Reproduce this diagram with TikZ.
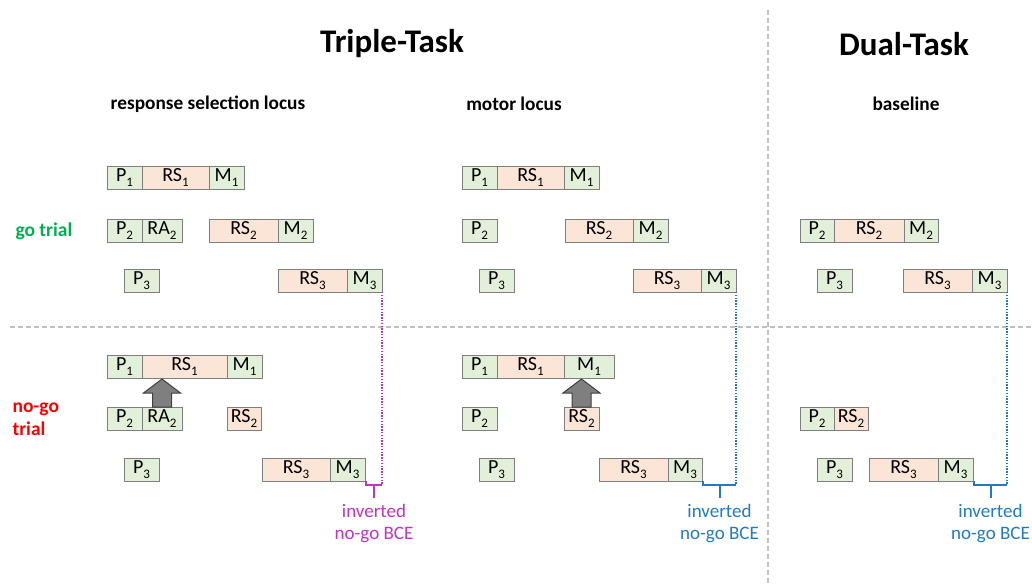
\documentclass[tikz,border=0pt]{standalone}
\usepackage{fontspec}
\setmainfont{Carlito}
\usetikzlibrary{calc}
\definecolor{gfill}{HTML}{E2F0D9}
\definecolor{ofill}{HTML}{FBE5D6}
\definecolor{edge}{HTML}{7F7F7F}
\definecolor{bceA}{HTML}{C82FC8}
\definecolor{bceB}{HTML}{1F7BC8}
\definecolor{gotxt}{HTML}{00B050}
\definecolor{nogotxt}{HTML}{FF0000}
\definecolor{divider}{HTML}{BFBFBF}
\definecolor{arrowfill}{HTML}{7F7F7F}
\definecolor{arrowedge}{HTML}{404040}
% lowered subscript for the stage labels
\newcommand\stagesub[1]{\raisebox{-0.28em}{\fontsize{13}{13}\selectfont #1}}
\begin{document}
\begin{tikzpicture}[x=1pt,y=-1pt,
  box/.style={draw=edge, line width=0.8pt, minimum height=23pt, inner sep=0pt,
    outer sep=0pt, anchor=north west, font=\fontsize{20}{20}\selectfont},
  gbox/.style={box, fill=gfill},
  obox/.style={box, fill=ofill},
  title/.style={font=\fontsize{33}{33}\selectfont\bfseries},
  subtitle/.style={font=\fontsize{19.3}{19.3}\selectfont\bfseries},
  rowlabel/.style={font=\fontsize{19.5}{23}\selectfont\bfseries, align=left, anchor=west},
  divline/.style={draw=divider, line width=1.2pt, dash pattern=on 5pt off 3pt},
  dotline/.style={line width=2pt, dash pattern=on 1.4pt off 1.4pt},
  bracketline/.style={line width=2pt},
  bcetext/.style={font=\fontsize{19}{22}\selectfont, align=center},
  blockarrow/.style={fill=arrowfill, draw=arrowedge, line width=1pt, line join=miter}
]
\useasboundingbox (0,0) rectangle (1032,584);

% section dividers
\coordinate (hdivL) at (10,327);
\coordinate (hdivR) at (1032,327);
\coordinate (vdivT) at (768,10);
\coordinate (vdivB) at (768,584);
\draw[divline] (hdivL) -- (hdivR);
\draw[divline] (vdivT) -- (vdivB);

% headings
\node[title] (tripleTitle) at (392,44) {Triple-Task};
\node[title] (dualTitle) at (904,44) {Dual-Task};
\node[subtitle] (rsLocus) at (208,104) {response selection locus};
\node[subtitle] (motorLocus) at (514,104) {motor locus};
\node[subtitle] (baseline) at (906,104) {baseline};

% row labels
\node[rowlabel, text=gotxt] (goLabel) at (12,231) {go trial};
\node[rowlabel, text=nogotxt] (nogoLabel) at (9,419) {no-go\\trial};

% ---- response selection locus, go trial
\node[gbox, minimum width=35pt] (lg-p1) at (107,166) {P\stagesub{1}};
\node[obox, minimum width=67pt] (lg-rs1) at (142,166) {RS\stagesub{1}};
\node[gbox, minimum width=35pt] (lg-m1) at (209,166) {M\stagesub{1}};
\node[gbox, minimum width=35pt] (lg-p2) at (107,219) {P\stagesub{2}};
\node[gbox, minimum width=40pt] (lg-ra2) at (142,219) {RA\stagesub{2}};
\node[obox, minimum width=69pt] (lg-rs2) at (209,219) {RS\stagesub{2}};
\node[gbox, minimum width=35pt] (lg-m2) at (278,219) {M\stagesub{2}};
\node[gbox, minimum width=35pt] (lg-p3) at (124,269) {P\stagesub{3}};
\node[obox, minimum width=69pt] (lg-rs3) at (278,269) {RS\stagesub{3}};
\node[gbox, minimum width=35pt] (lg-m3) at (347,269) {M\stagesub{3}};

% ---- response selection locus, no-go trial
\node[gbox, minimum width=35pt] (ln-p1) at (107,355) {P\stagesub{1}};
\node[obox, minimum width=85pt] (ln-rs1) at (142,355) {RS\stagesub{1}};
\node[gbox, minimum width=35pt] (ln-m1) at (227,355) {M\stagesub{1}};
\node[gbox, minimum width=35pt] (ln-p2) at (107,407) {P\stagesub{2}};
\node[gbox, minimum width=40pt] (ln-ra2) at (142,407) {RA\stagesub{2}};
\node[obox, minimum width=34pt] (ln-rs2) at (227,407) {RS\stagesub{2}};
\node[gbox, minimum width=35pt] (ln-p3) at (124,458) {P\stagesub{3}};
\node[obox, minimum width=68pt] (ln-rs3) at (262,458) {RS\stagesub{3}};
\node[gbox, minimum width=35pt] (ln-m3) at (330,458) {M\stagesub{3}};

% ---- motor locus, go trial
\node[gbox, minimum width=35pt] (mg-p1) at (462,166) {P\stagesub{1}};
\node[obox, minimum width=67pt] (mg-rs1) at (497,166) {RS\stagesub{1}};
\node[gbox, minimum width=35pt] (mg-m1) at (564,166) {M\stagesub{1}};
\node[gbox, minimum width=35pt] (mg-p2) at (462,219) {P\stagesub{2}};
\node[obox, minimum width=68pt] (mg-rs2) at (565,219) {RS\stagesub{2}};
\node[gbox, minimum width=35pt] (mg-m2) at (633,219) {M\stagesub{2}};
\node[gbox, minimum width=35pt] (mg-p3) at (479,269) {P\stagesub{3}};
\node[obox, minimum width=68pt] (mg-rs3) at (633,269) {RS\stagesub{3}};
\node[gbox, minimum width=35pt] (mg-m3) at (701,269) {M\stagesub{3}};

% ---- motor locus, no-go trial
\node[gbox, minimum width=35pt] (mn-p1) at (462,355) {P\stagesub{1}};
\node[obox, minimum width=67pt] (mn-rs1) at (497,355) {RS\stagesub{1}};
\node[gbox, minimum width=50pt] (mn-m1) at (564,355) {M\stagesub{1}};
\node[gbox, minimum width=35pt] (mn-p2) at (462,407) {P\stagesub{2}};
\node[obox, minimum width=35pt] (mn-rs2) at (564,407) {RS\stagesub{2}};
\node[gbox, minimum width=35pt] (mn-p3) at (479,458) {P\stagesub{3}};
\node[obox, minimum width=69pt] (mn-rs3) at (599,458) {RS\stagesub{3}};
\node[gbox, minimum width=34pt] (mn-m3) at (668,458) {M\stagesub{3}};

% ---- dual-task baseline, go trial
\node[gbox, minimum width=34pt] (rg-p2) at (800,219) {P\stagesub{2}};
\node[obox, minimum width=70pt] (rg-rs2) at (834,219) {RS\stagesub{2}};
\node[gbox, minimum width=34pt] (rg-m2) at (904,219) {M\stagesub{2}};
\node[gbox, minimum width=35pt] (rg-p3) at (817,269) {P\stagesub{3}};
\node[obox, minimum width=69pt] (rg-rs3) at (903,269) {RS\stagesub{3}};
\node[gbox, minimum width=35pt] (rg-m3) at (972,269) {M\stagesub{3}};

% ---- dual-task baseline, no-go trial
\node[gbox, minimum width=34pt] (rn-p2) at (800,407) {P\stagesub{2}};
\node[obox, minimum width=34pt] (rn-rs2) at (834,407) {RS\stagesub{2}};
\node[gbox, minimum width=35pt] (rn-p3) at (817,458) {P\stagesub{3}};
\node[obox, minimum width=69pt] (rn-rs3) at (869,458) {RS\stagesub{3}};
\node[gbox, minimum width=35pt] (rn-m3) at (938,458) {M\stagesub{3}};

% block arrows (shaft from the lower box up into the upper box)
\draw[blockarrow]
  ($(ln-ra2.north)+(-9.5,0)$) -- ++(0,-14) -- ++(-9,0)
  -- ($(ln-ra2.north |- ln-rs1.south)+(0,1)$)
  -- ($(ln-ra2.north)+(18.5,-14)$) -- ++(-9,0) -- ++(0,14) -- cycle;
\draw[blockarrow]
  ($(mn-rs2.north)+(-9.5,0)$) -- ++(0,-14) -- ++(-9,0)
  -- ($(mn-rs2.north |- mn-m1.south)+(0,1)$)
  -- ($(mn-rs2.north)+(18.5,-14)$) -- ++(-9,0) -- ++(0,14) -- cycle;

% inverted no-go BCE: dotted drop from the go-trial M3 and bracket under the no-go M3
\coordinate (l-corner) at ($(lg-m3.east |- ln-m3.south)+(0,4)$);
\coordinate (m-corner) at ($(mg-m3.east |- mn-m3.south)+(0,4)$);
\coordinate (r-corner) at ($(rg-m3.east |- rn-m3.south)+(0,4)$);

\draw[dotline, draw=bceA] (lg-m3.south east) -- (l-corner);
\draw[bracketline, draw=bceA] ($(ln-m3.south east)+(1,0)$) -- ++(0,4) -- (l-corner);
\coordinate (l-stem) at ($($(ln-m3.south east)+(1,4)$)!0.5!(l-corner)$);
\draw[bracketline, draw=bceA] (l-stem) -- ++(0,13) coordinate (l-stemEnd);
\node[bcetext, text=bceA, anchor=north] (l-bce) at ($(l-stemEnd)+(0,3)$) {inverted\\no-go BCE};

\draw[dotline, draw=bceB] (mg-m3.south east) -- (m-corner);
\draw[bracketline, draw=bceB] ($(mn-m3.south east)+(1,0)$) -- ++(0,4) -- (m-corner);
\coordinate (m-stem) at ($($(mn-m3.south east)+(1,4)$)!0.5!(m-corner)$);
\draw[bracketline, draw=bceB] (m-stem) -- ++(0,13) coordinate (m-stemEnd);
\node[bcetext, text=bceB, anchor=north] (m-bce) at ($(m-stemEnd)+(0,3)$) {inverted\\no-go BCE};

\draw[dotline, draw=bceB] (rg-m3.south east) -- (r-corner);
\draw[bracketline, draw=bceB] ($(rn-m3.south east)+(1,0)$) -- ++(0,4) -- (r-corner);
\coordinate (r-stem) at ($($(rn-m3.south east)+(1,4)$)!0.5!(r-corner)$);
\draw[bracketline, draw=bceB] (r-stem) -- ++(0,13) coordinate (r-stemEnd);
\node[bcetext, text=bceB, anchor=north] (r-bce) at ($(r-stemEnd)+(0,3)$) {inverted\\no-go BCE};
\end{tikzpicture}
\end{document}
